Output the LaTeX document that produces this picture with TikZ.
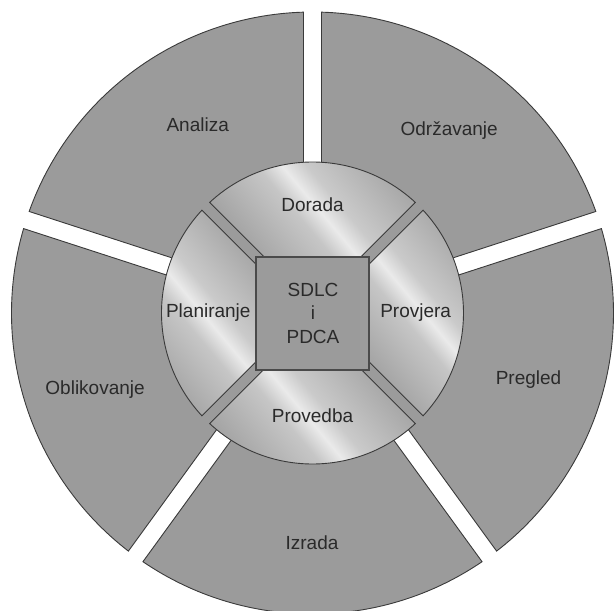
\documentclass[tikz,border=0pt]{standalone}
\usepackage{fontspec}
\setmainfont{Liberation Sans}
\definecolor{ringgrey}{HTML}{9B9B9B}
\definecolor{edgegrey}{HTML}{3A3A3A}
\definecolor{coreedge}{HTML}{4A4A4A}
\definecolor{labelgrey}{HTML}{2A2A2A}
\definecolor{metalA}{HTML}{A2A2A2}
\definecolor{metalB}{HTML}{C6C6C6}
\definecolor{metalC}{HTML}{EAEAEA}
\definecolor{metalD}{HTML}{CACACA}
\definecolor{metalE}{HTML}{A6A6A6}
\pgfdeclarehorizontalshading{metal}{100bp}{%
  color(0bp)=(metalA); color(25bp)=(metalA); color(44bp)=(metalB);
  color(50bp)=(metalC); color(56bp)=(metalD); color(75bp)=(metalE);
  color(100bp)=(metalE)}
\begin{document}
\begin{tikzpicture}[x=1pt,y=1pt,
  outerseg/.style={fill=ringgrey, draw=edgegrey, line width=0.9pt, line join=miter},
  innerseg/.style={shading=metal, shading angle=40, draw=edgegrey, line width=0.9pt},
  core/.style={fill=ringgrey, draw=coreedge, line width=2pt, minimum size=113pt,
    inner sep=0pt, align=center, text=labelgrey,
    font=\fontsize{19}{23.5}\selectfont},
  lbl/.style={text=labelgrey, font=\fontsize{19}{23}\selectfont, inner sep=0pt}]
\useasboundingbox (-312.5,-298) rectangle (301.5,313);
\clip (-312.5,-298) rectangle (301.5,313);
% outer ring: five sectors separated by parallel-sided gaps
\def\ringout{301}
\def\ringin{120}
\def\gaphalf{9}
\foreach \gapstart in {18,90,162,234,306} {
  \pgfmathsetmacro\gapend{\gapstart+72}
  \pgfmathsetmacro\degout{asin(\gaphalf/\ringout)}
  \pgfmathsetmacro\degin{asin(\gaphalf/\ringin)}
  \draw[outerseg] ({\gapstart+\degin}:\ringin) -- ({\gapstart+\degout}:\ringout)
    arc[start angle={\gapstart+\degout}, end angle={\gapend-\degout}, radius=\ringout]
    -- ({\gapend-\degin}:\ringin)
    arc[start angle={\gapend-\degin}, end angle={\gapstart+\degin}, radius=\ringin]
    -- cycle;
}
% grey disc behind the inner ring
\fill[ringgrey] (0,0) circle[radius=151];
% inner ring: four metallic sectors around the core square
\foreach \mid in {0,90,180,270} {
  \path[innerseg] ({\mid-45+2.087}:151)
    arc[start angle={\mid-45+2.087}, end angle={\mid+45-2.087}, radius=151]
    -- ({\mid+40.77}:74.6) -- ({\mid-40.77}:74.6) -- cycle;
}
\node[core] (core) at (0.5,0) {SDLC\\i\\PDCA};
% inner labels
\node[lbl] (dorada) at (0,108) {Dorada};
\node[lbl] (planiranje) at (-104.2,0.7) {Planiranje};
\node[lbl] (provjera) at (103.2,0.7) {Provjera};
\node[lbl] (provedba) at (0,-102.7) {Provedba};
% outer labels
\node[lbl] (analiza) at (-114.8,188.5) {Analiza};
\node[lbl] (odrzavanje) at (136.7,182) {Održavanje};
\node[lbl] (pregled) at (216,-66.8) {Pregled};
\node[lbl] (izrada) at (-0.5,-229.3) {Izrada};
\node[lbl] (oblikovanje) at (-217.4,-76.6) {Oblikovanje};
\end{tikzpicture}
\end{document}
